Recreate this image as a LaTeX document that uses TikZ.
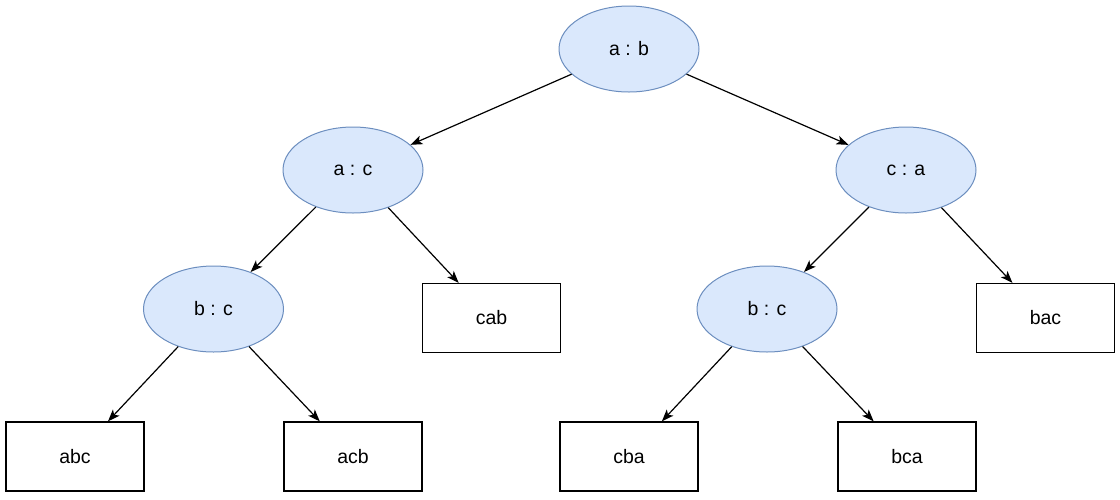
\documentclass[tikz,border=0pt]{standalone}
\usepackage{fontspec}
\setmainfont{Liberation Sans}
\usetikzlibrary{arrows.meta,shapes.geometric}
\definecolor{cmpfill}{HTML}{DAE8FC}
\definecolor{cmpline}{HTML}{6C8EBF}
\begin{document}
\begin{tikzpicture}[x=1pt,y=-1pt,
  font=\fontsize{19.5}{22}\selectfont,
  cmp/.style={ellipse, draw=cmpline, fill=cmpfill, line width=1pt,
    minimum width=140pt, minimum height=86pt, inner sep=0pt},
  leaf/.style={rectangle, draw=black, line width=1.3pt,
    minimum width=138pt, minimum height=69pt, inner sep=0pt},
  edge/.style={draw=black, line width=1.2pt,
    -{Stealth[length=12pt, width=9pt, inset=3pt]}}]
\useasboundingbox (0,0) rectangle (1120,499);
% comparison nodes
\node[cmp] (ab)  at (629,49)   {a : b};
\node[cmp] (ac)  at (353,170)  {a : c};
\node[cmp] (ca)  at (906,170)  {c : a};
\node[cmp] (bcl) at (213.5,309) {b : c};
\node[cmp] (bcr) at (767,309)  {b : c};
% leaves
\node[leaf] (cab) at (491.5,318)  {cab};
\node[leaf] (bac) at (1045.5,318) {bac};
\node[leaf] (abc) at (75,456.5)   {abc};
\node[leaf] (acb) at (353,456.5)  {acb};
\node[leaf] (cba) at (629,456.5)  {cba};
\node[leaf] (bca) at (907,456.5)  {bca};
% edges
\draw[edge] (ab) -- (ac);
\draw[edge] (ab) -- (ca);
\draw[edge] (ac) -- (bcl);
\draw[edge] (ac) -- (cab);
\draw[edge] (ca) -- (bcr);
\draw[edge] (ca) -- (bac);
\draw[edge] (bcl) -- (abc);
\draw[edge] (bcl) -- (acb);
\draw[edge] (bcr) -- (cba);
\draw[edge] (bcr) -- (bca);
\end{tikzpicture}
\end{document}
